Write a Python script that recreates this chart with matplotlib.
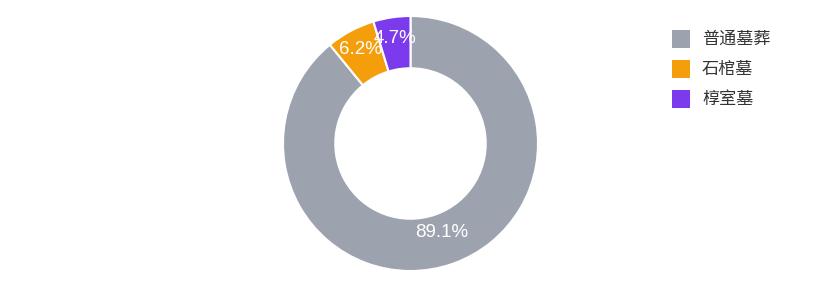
import numpy as np
import matplotlib
matplotlib.use("Agg")
import matplotlib.pyplot as plt
from matplotlib.patches import Rectangle

# data
categories = ['普通墓葬', '石棺墓', '椁室墓']
shares = [89.1, 6.2, 4.7]
colors = ['#9CA3AF', '#F59E0B', '#7C3AED']
label_radius = [0.74, 0.84, 0.83]

plt.rcParams['font.family'] = ['Noto Sans CJK SC', 'DejaVu Sans']

W, H = 822, 288
fig = plt.figure(figsize=(W / 100, H / 100), dpi=100)

cx, cy, r = 410.5, 143.5, 127.5
ax = fig.add_axes([(cx - r) / W, (H - cy - r) / H, 2 * r / W, 2 * r / H])

wedges, texts, autotexts = ax.pie(
    shares, colors=colors, startangle=90, counterclock=False,
    radius=1.0, autopct='%1.1f%%', pctdistance=0.8,
    wedgeprops=dict(width=0.41, edgecolor='white', linewidth=1.5),
    textprops=dict(color='white', fontsize=13.5, family='Liberation Sans'))

# nudge the percentage labels
start = 90.0
for t, s, rr in zip(autotexts, shares, label_radius):
    mid = np.deg2rad(start - s * 360 / 100 / 2)
    t.set_position((rr * np.cos(mid), rr * np.sin(mid)))
    start -= s * 360 / 100

ax.set_xlim(-1, 1)
ax.set_ylim(-1, 1)
ax.set_aspect('equal')
ax.axis('off')

# legend
for i, (cat, col) in enumerate(zip(categories, colors)):
    y = 39 + i * 30
    fig.add_artist(Rectangle((672 / W, (H - y - 9) / H), 18 / W, 18 / H,
                             transform=fig.transFigure, facecolor=col,
                             edgecolor='none'))
    fig.text(702 / W, (H - y) / H, cat, fontsize=12.3, color='#333333',
             va='center', ha='left')

fig.savefig('out.png', dpi=100)
